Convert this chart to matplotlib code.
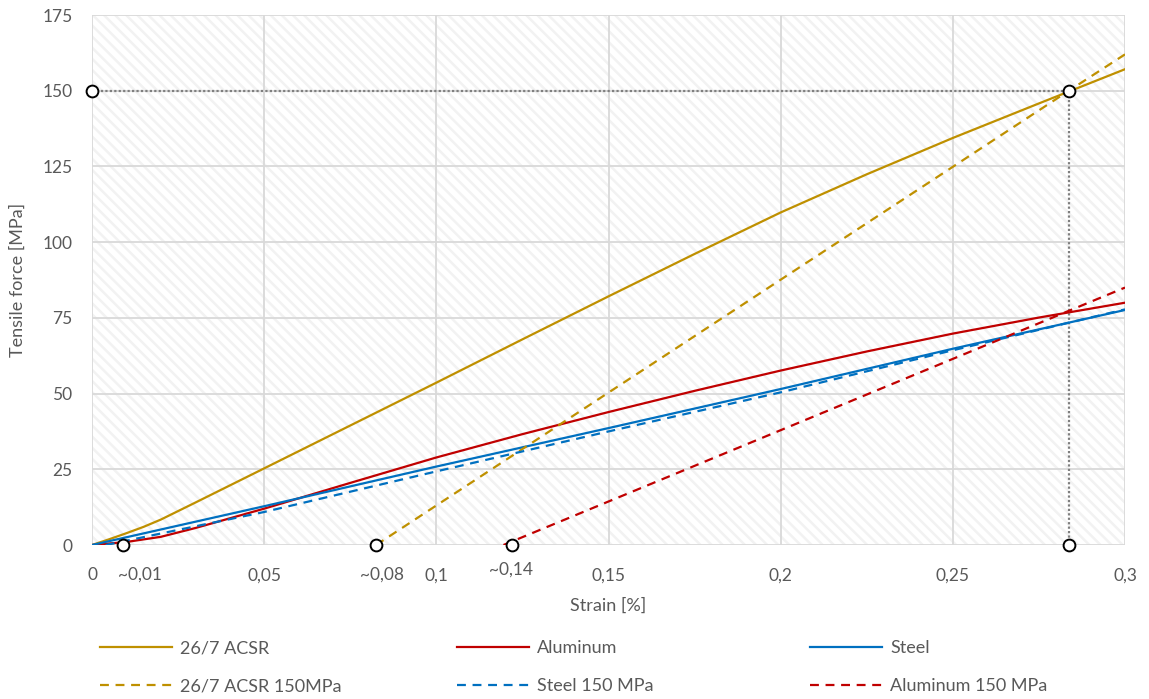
import matplotlib
matplotlib.use("Agg")
import matplotlib.pyplot as plt
from matplotlib.patches import Rectangle

plt.rcParams['font.family'] = ['Lato', 'DejaVu Sans']
plt.rcParams['hatch.linewidth'] = 1.8

# --- data ---
acsr_x = [0, 0.005, 0.01, 0.015, 0.02, 0.03, 0.05, 0.1, 0.125, 0.15, 0.175, 0.2, 0.225, 0.25, 0.275, 0.3]
acsr_y = [0, 1.9, 3.9, 6.0, 8.4, 14.0, 25.3, 53.6, 67.9, 82.1, 96.1, 109.8, 122.4, 134.4, 145.8, 157.1]

alu_x = [0, 0.01, 0.02, 0.03, 0.04, 0.05, 0.075, 0.1, 0.125, 0.15, 0.175, 0.2, 0.225, 0.25, 0.275, 0.3]
alu_y = [0, 1.0, 2.7, 5.6, 8.8, 12.0, 20.5, 28.9, 36.6, 43.9, 50.9, 57.6, 63.9, 69.8, 75.1, 80.0]

steel_x = [0, 0.05, 0.1, 0.15, 0.2, 0.25, 0.3]
steel_y = [0, 12.8, 25.9, 38.6, 51.5, 64.8, 77.6]

acsr150_x = [0.0825, 0.2837, 0.3]
acsr150_y = [0, 150.0, 162.0]

steel150_x = [0.004, 0.05, 0.1, 0.15, 0.2, 0.25, 0.3]
steel150_y = [0, 10.9, 24.3, 37.5, 50.4, 64.3, 77.8]

alu150_x = [0.1195, 0.3]
alu150_y = [0, 85.0]

marker_x = [0, 0.2837, 0.2837, 0.009, 0.0825, 0.122]
marker_y = [150.0, 150.0, 0, 0, 0, 0]

xticks = [0, 0.05, 0.1, 0.15, 0.2, 0.25, 0.3]
xtick_labels = ["0", "0,05", "0,1", "0,15", "0,2", "0,25", "0,3"]
yticks = [0, 25, 50, 75, 100, 125, 150, 175]

extra_x = [0.0139, 0.0842, 0.1217]
extra_labels = ["~0,01", "~0,08", "~0,14"]
extra_offset = [-30, -30, -25]

C_GOLD = '#BF9000'
C_RED = '#C00000'
C_BLUE = '#0070C0'
TXT = '#595959'

fig = plt.figure(figsize=(11.49, 6.99), dpi=100)
ax = fig.add_axes([92/1149, 1 - 545/699, (1125-92)/1149, (545-15)/699])

ax.set_xlim(0, 0.3)
ax.set_ylim(0, 175)

# hatched background
ax.add_patch(Rectangle((0, 0), 1, 1, transform=ax.transAxes, facecolor='white',
                       edgecolor='#F2F2F2', hatch='\\\\\\', linewidth=0, zorder=0))

ax.set_xticks(xticks)
ax.set_xticklabels(xtick_labels)
ax.set_yticks(yticks)
ax.grid(True, color='#D9D9D9', linewidth=1.3, zorder=1)
ax.set_axisbelow(True)
for s in ax.spines.values():
    s.set_visible(False)
ax.tick_params(length=0, labelsize=12.5, labelcolor=TXT)
ax.tick_params(axis='x', pad=16)
ax.tick_params(axis='y', pad=14)

lw = 1.6
dash = (0, (4, 3))
l1, = ax.plot(acsr_x, acsr_y, color=C_GOLD, lw=lw, label='26/7 ACSR', zorder=3)
l2, = ax.plot(alu_x, alu_y, color=C_RED, lw=lw, label='Aluminum', zorder=3)
l3, = ax.plot(steel_x, steel_y, color=C_BLUE, lw=lw, label='Steel', zorder=3)
l4, = ax.plot(acsr150_x, acsr150_y, color=C_GOLD, lw=lw, ls=dash, label='26/7 ACSR 150MPa', zorder=3)
l5, = ax.plot(steel150_x, steel150_y, color=C_BLUE, lw=lw, ls=dash, label='Steel 150 MPa', zorder=3)
l6, = ax.plot(alu150_x, alu150_y, color=C_RED, lw=lw, ls=dash, label='Aluminum 150 MPa', zorder=3)

# reference dotted lines
ax.plot([marker_x[0], marker_x[1]], [marker_y[0], marker_y[1]], color='#7F7F7F', lw=1.6, ls=(0, (1, 1)), zorder=2)
ax.plot([marker_x[1], marker_x[2]], [marker_y[1], marker_y[2]], color='#7F7F7F', lw=1.6, ls=(0, (1, 1)), zorder=2)

ax.plot(marker_x, marker_y, ls='none', marker='o', ms=8.5, mfc='white', mec='black', mew=1.4,
        zorder=5, clip_on=False)

for xv, lab, off in zip(extra_x, extra_labels, extra_offset):
    ax.annotate(lab, xy=(xv, 0), xycoords='data', xytext=(0, off), textcoords='offset pixels',
                ha='center', va='center', fontsize=12.5, color=TXT, annotation_clip=False)

ax.set_xlabel('Strain [%]', fontsize=13, color=TXT, labelpad=10)
ax.set_ylabel('Tensile force [MPa]', fontsize=13, color=TXT, labelpad=12)

# legend: three columns placed like the reference
columns = [(l1, l4), (l2, l5), (l3, l6)]
col_x = [100, 457, 810]
for (ha, hb), cx in zip(columns, col_x):
    leg = fig.legend(handles=[ha, hb], labels=[ha.get_label(), hb.get_label()],
                     loc='upper left', bbox_to_anchor=(cx/1149, 1 - 640/699),
                     frameon=False, fontsize=13, handlelength=4.0, handletextpad=0.45,
                     labelspacing=1.22, borderpad=0, borderaxespad=0)
    for t in leg.get_texts():
        t.set_color(TXT)

fig.savefig('out.png', dpi=100)
